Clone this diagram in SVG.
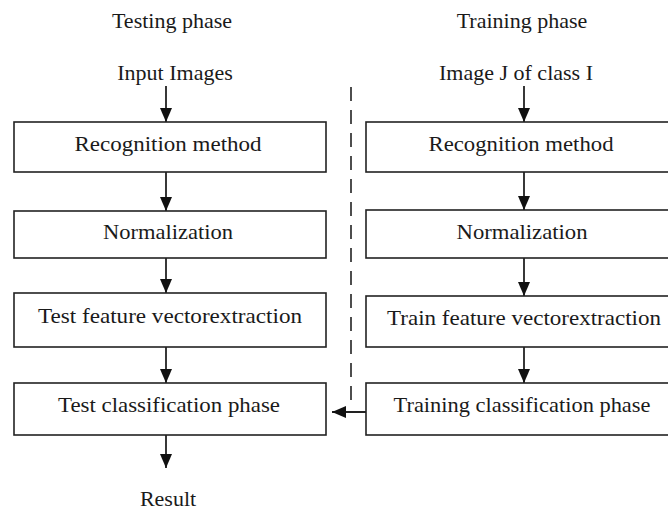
<svg xmlns="http://www.w3.org/2000/svg" width="668" height="512" viewBox="0 0 668 512">
<style>
text{font-family:'Liberation Serif','DejaVu Serif',serif;font-size:22px;fill:#1a1a1a;text-anchor:middle}
.box{fill:#fff;stroke:#222;stroke-width:1.6}
.arr{stroke:#222;stroke-width:1.8;fill:none;marker-end:url(#ah)}
.dash{stroke:#222;stroke-width:1.6;fill:none;stroke-dasharray:14 9}
</style>
<defs>
<marker id="ah" markerUnits="userSpaceOnUse" markerWidth="14" markerHeight="12" refX="14" refY="6" orient="auto">
<path d="M0,0 L14,6 L0,12 z" fill="#111"/>
</marker>
</defs>
<rect width="668" height="512" fill="#fff"/>
<g id="labels" font-family="Liberation Serif, DejaVu Serif, serif">
<text x="172" y="28">Testing phase</text>
<text x="522" y="28">Training phase</text>
<text x="175" y="80">Input Images</text>
<text x="516" y="80">Image J of class I</text>
<text x="168" y="506">Result</text>
</g>
<g id="connectors">
<line class="arr" x1="166" y1="86" x2="166" y2="122"/>
<line class="arr" x1="166" y1="172" x2="166" y2="211"/>
<line class="arr" x1="166" y1="258" x2="166" y2="293"/>
<line class="arr" x1="166" y1="347" x2="166" y2="383"/>
<line class="arr" x1="166" y1="435" x2="166" y2="468"/>
<line class="arr" x1="524" y1="86" x2="524" y2="122"/>
<line class="arr" x1="524" y1="172" x2="524" y2="210"/>
<line class="arr" x1="524" y1="258" x2="524" y2="296"/>
<line class="arr" x1="524" y1="347" x2="524" y2="383"/>
<line class="arr" x1="366" y1="412" x2="332" y2="412"/>
<line class="dash" x1="351" y1="87" x2="351" y2="402"/>
</g>
<g id="test-recognition">
<rect class="box" x="14" y="122" width="312" height="50"/>
<text x="168" y="151" textLength="187" lengthAdjust="spacingAndGlyphs">Recognition method</text>
</g>
<g id="test-normalization">
<rect class="box" x="14" y="211" width="312" height="47"/>
<text x="168" y="239" textLength="130" lengthAdjust="spacingAndGlyphs">Normalization</text>
</g>
<g id="test-feature">
<rect class="box" x="14" y="293" width="312" height="54"/>
<text x="170" y="323" textLength="264" lengthAdjust="spacingAndGlyphs">Test feature vectorextraction</text>
</g>
<g id="test-classification">
<rect class="box" x="14" y="383" width="312" height="52"/>
<text x="169" y="412" textLength="222" lengthAdjust="spacingAndGlyphs">Test classification phase</text>
</g>
<g id="train-recognition">
<rect class="box" x="366" y="122" width="310" height="50"/>
<text x="521" y="151" textLength="185" lengthAdjust="spacingAndGlyphs">Recognition method</text>
</g>
<g id="train-normalization">
<rect class="box" x="366" y="210" width="310" height="48"/>
<text x="522" y="239" textLength="131" lengthAdjust="spacingAndGlyphs">Normalization</text>
</g>
<g id="train-feature">
<rect class="box" x="366" y="296" width="310" height="51"/>
<text x="524" y="325" textLength="274" lengthAdjust="spacingAndGlyphs">Train feature vectorextraction</text>
</g>
<g id="train-classification">
<rect class="box" x="366" y="383" width="310" height="52"/>
<text x="522" y="412" textLength="257" lengthAdjust="spacingAndGlyphs">Training classification phase</text>
</g>
</svg>
